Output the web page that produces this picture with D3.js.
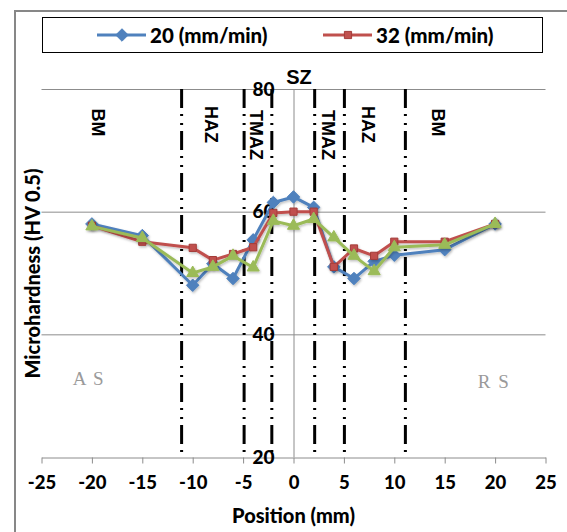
<!DOCTYPE html>
<html><head><meta charset="utf-8">
<script src="https://cdn.jsdelivr.net/npm/d3@7/dist/d3.min.js"></script>
<style>
html,body{margin:0;padding:0;background:#fff;}
svg{display:block;}
</style></head>
<body>
<svg id="chart" width="567" height="532"></svg>
<script>
// ---- data ----
const positions = [-20, -15, -10, -8, -6, -4, -2, 0, 2, 4, 6, 8, 10, 15, 20];
const series20 = [58.0, 56.1, 48.0, 51.5, 49.1, 55.4, 61.5, 62.4, 60.7, 51.0, 49.1, 51.9, 52.9, 53.8, 58.0];
const series32 = [57.7, 55.1, 54.1, 52.1, 53.1, 54.2, 59.8, 60.0, 60.0, 51.0, 54.0, 52.8, 55.1, 55.1, 58.0];
const series3  = [57.6, 55.7, 50.0, 51.0, 52.8, 50.9, 58.5, 57.7, 58.8, 55.8, 52.8, 50.3, 54.2, 54.6, 58.0];
const seriesNames = ["20 (mm/min)", "32 (mm/min)"];
const xTicks = [-25, -20, -15, -10, -5, 0, 5, 10, 15, 20, 25];
const yTicks = [20, 40, 60, 80];
const gridValues = [40, 60, 80];
const zoneBoundaries = [-11.1, -4.9, -2.15, 2.1, 5.05, 11.1];
const zoneLabels = ["BM", "HAZ", "TMAZ", "TMAZ", "HAZ", "BM"];
const zoneLabelPos = [-19.4, -8.2, -3.7, 3.4, 7.4, 14.35];
const sideLabels = ["A S", "R S"];
const sideLabelPos = [-20.3, 19.9];
const sideLabelVal = [31.8, 31.3];

// ---- layout ----
const svg = d3.select("#chart");
const x = d3.scaleLinear().domain([-25, 25]).range([41.5, 545.5]);
const y = d3.scaleLinear().domain([20, 80]).range([457, 89]);
const tickFont = "Lato, 'Open Sans', sans-serif";
const colors = {b: "#4F81BD", r: "#C0504D", g: "#9BBB59"};

// outer frame
svg.append("rect").attr("x", 15).attr("y", 11).attr("width", 620).attr("height", 600)
  .attr("fill", "none").attr("stroke", "#878787").attr("stroke-width", 2);

// gridlines
svg.append("g").selectAll("line").data(gridValues).join("line")
  .attr("x1", x(-25)).attr("x2", x(25))
  .attr("y1", d => y(d) + 0.5).attr("y2", d => y(d) + 0.5)
  .attr("stroke", "#8c8c8c").attr("stroke-width", 1);

// y axis line (at x=0)
svg.append("line").attr("x1", x(0) + 0.5).attr("x2", x(0) + 0.5)
  .attr("y1", y(80)).attr("y2", y(20)).attr("stroke", "#8c8c8c").attr("stroke-width", 1);

// x axis
const xAxis = svg.append("g").attr("transform", `translate(0,${y(20) + 0.5})`)
  .call(d3.axisBottom(x).tickValues(xTicks).tickSize(6).tickSizeOuter(0).tickPadding(12)
    .tickFormat(d => d));
xAxis.select(".domain").attr("stroke", "#8c8c8c");
xAxis.selectAll(".tick line").attr("stroke", "#8c8c8c");
xAxis.selectAll("text").attr("font-family", tickFont).attr("font-weight", "900")
  .attr("font-size", 18.5).attr("fill", "#000");

// y axis labels
const yAxis = svg.append("g").attr("transform", `translate(${x(0)},0)`)
  .call(d3.axisLeft(y).tickValues(yTicks).tickSize(0).tickPadding(19));
yAxis.select(".domain").remove();
yAxis.selectAll("text").attr("font-family", tickFont).attr("font-weight", "900")
  .attr("font-size", 19).attr("fill", "#000");

// zone boundaries (dash-dot-dot)
svg.append("g").selectAll("line").data(zoneBoundaries).join("line")
  .attr("x1", d => x(d)).attr("x2", d => x(d))
  .attr("y1", y(80)).attr("y2", y(20) + 2)
  .attr("stroke", "#000").attr("stroke-width", 3)
  .attr("stroke-dasharray", "19,6,2,7,2,6");

// zone labels
svg.append("g").selectAll("text").data(zoneLabels).join("text")
  .attr("transform", (d, i) => `translate(${x(zoneLabelPos[i])},${d === "HAZ" ? 106 : (d === "BM" ? 108.5 : 110)}) rotate(90)`)
  .attr("dominant-baseline", "central")
  .attr("font-family", "'Liberation Sans', Arial, sans-serif").attr("font-weight", "bold")
  .attr("font-size", 18).text(d => d);

// SZ label
svg.append("text").attr("x", x(0.55)).attr("y", 84).attr("text-anchor", "middle")
  .attr("font-family", "'Liberation Sans', Arial, sans-serif").attr("font-weight", "bold")
  .attr("font-size", 20).text("SZ");

// side labels
svg.append("g").selectAll("text").data(sideLabels).join("text")
  .attr("x", (d, i) => x(sideLabelPos[i])).attr("y", (d, i) => y(sideLabelVal[i]))
  .attr("text-anchor", "middle").attr("font-family", "'Liberation Serif', serif")
  .attr("font-size", 19).attr("letter-spacing", 1.5).attr("fill", "#9a9a9a").text(d => d);

// series lines
const line = d3.line().x(d => x(d[0])).y(d => y(d[1]));
const allSeries = [
  {vals: series20, color: colors.b, marker: "diamond"},
  {vals: series32, color: colors.r, marker: "square"},
  {vals: series3, color: colors.g, marker: "triangle"}
];
const defs = svg.append("defs");
defs.append("filter").attr("id", "sh").attr("x", "-20%").attr("y", "-20%").attr("width", "140%").attr("height", "140%")
  .append("feDropShadow").attr("dx", 1).attr("dy", 1.5).attr("stdDeviation", 1)
  .attr("flood-color", "#000").attr("flood-opacity", 0.25);

allSeries.forEach(s => {
  const pts = positions.map((p, i) => [p, s.vals[i]]);
  const g = svg.append("g").attr("filter", "url(#sh)");
  g.append("path").attr("d", line(pts)).attr("fill", "none")
    .attr("stroke", s.color).attr("stroke-width", 3).attr("stroke-linejoin", "round");
  let sym, size;
  if (s.marker === "diamond") { sym = d3.symbolDiamond2; size = 100; }
  else if (s.marker === "square") { sym = d3.symbolSquare; size = 52; }
  else { sym = d3.symbolTriangle2; size = 105; }
  g.selectAll("path.m").data(pts).join("path").attr("class", "m")
    .attr("transform", d => `translate(${x(d[0])},${y(d[1])})`)
    .attr("d", d3.symbol().type(sym).size(size))
    .attr("fill", s.color)
    .attr("stroke", s.marker === "square" ? "#a43c39" : s.color).attr("stroke-width", 1);
});

// legend
const lg = svg.append("g");
lg.append("rect").attr("x", 42.5).attr("y", 17.5).attr("width", 500).attr("height", 35)
  .attr("fill", "#fff").attr("stroke", "#000").attr("stroke-width", 1);
const legendItems = [
  {name: seriesNames[0], color: colors.b, marker: d3.symbolDiamond2, size: 100, x0: 97},
  {name: seriesNames[1], color: colors.r, marker: d3.symbolSquare, size: 52, x0: 323}
];
legendItems.forEach(it => {
  lg.append("line").attr("x1", it.x0).attr("x2", it.x0 + 49).attr("y1", 35).attr("y2", 35)
    .attr("stroke", it.color).attr("stroke-width", 3);
  lg.append("path").attr("transform", `translate(${it.x0 + 25},35)`)
    .attr("d", d3.symbol().type(it.marker).size(it.size)).attr("fill", it.color)
    .attr("stroke", it.marker === d3.symbolSquare ? "#a43c39" : it.color);
  lg.append("text").attr("x", it.x0 + 53).attr("y", 35).attr("dominant-baseline", "central")
    .attr("font-family", tickFont).attr("font-weight", "900").attr("font-size", 20.5)
    .text(it.name);
});

// axis titles
svg.append("text").attr("x", x(0)).attr("y", 523).attr("text-anchor", "middle")
  .attr("font-family", tickFont).attr("font-weight", "900").attr("font-size", 20)
  .text("Position (mm)");
svg.append("text").attr("transform", `translate(40,273.5) rotate(-90)`).attr("text-anchor", "middle")
  .attr("font-family", tickFont).attr("font-weight", "900").attr("font-size", 20)
  .text("Microhardness (HV 0.5)");
</script>
</body></html>
